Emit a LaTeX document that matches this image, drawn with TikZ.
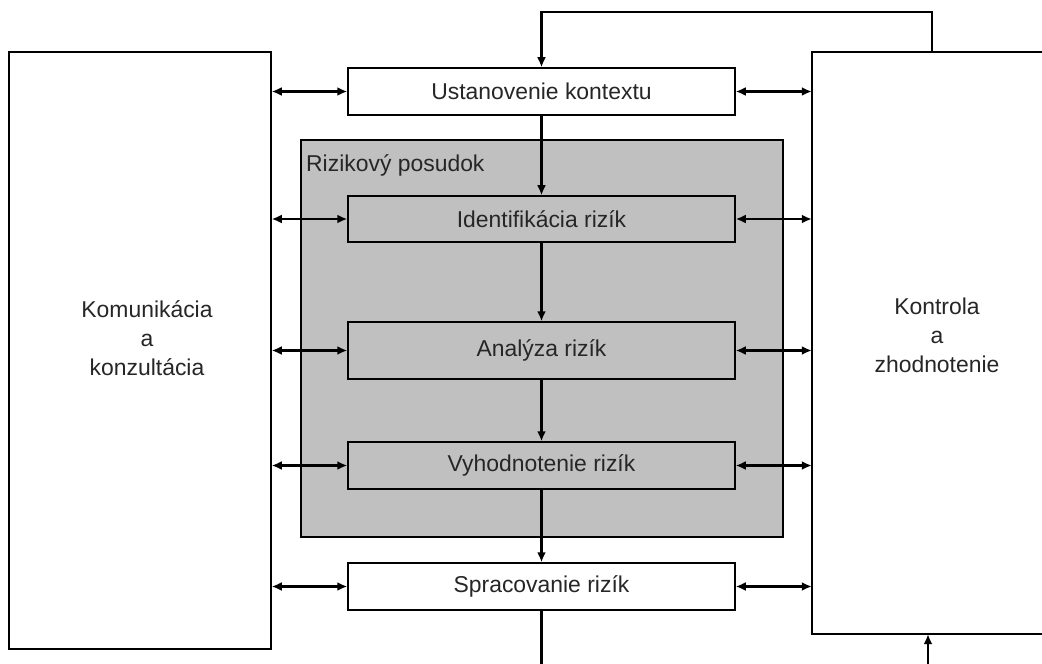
\documentclass[tikz,border=0pt]{standalone}
\usepackage{fontspec}
\setmainfont{Liberation Sans}
\usetikzlibrary{arrows.meta,calc}
\definecolor{riskgray}{RGB}{192,192,192}
\begin{document}
\begin{tikzpicture}[x=1bp,y=-1bp,
  txt/.style={font=\fontsize{23}{29}\selectfont, text=black!85},
  stagebox/.style={txt, draw=black, line width=1.5bp, inner sep=0pt,
    minimum width=387bp, minimum height=47bp},
  outerstage/.style={stagebox, fill=white},
  innerstage/.style={stagebox, fill=riskgray},
  sidebox/.style={draw=black, line width=1.5bp, fill=white, inner sep=0pt},
  sidetext/.style={txt, align=center, inner sep=0pt},
  sideline/.style={draw=black, line width=1.5bp},
  tip/.style={},
  flow/.style={line width=2.4bp, -{Latex[length=10bp,width=9bp]}},
  plain/.style={line width=2.4bp},
  link/.style={line width=2.4bp, {Latex[length=10bp,width=9bp]}-{Latex[length=10bp,width=9bp]}},
]
% page
\fill[white] (0,0) rectangle (1042,664);
\useasboundingbox (0,0) rectangle (1042,664);

% side columns
\node[sidebox, minimum width=262bp, minimum height=597bp] (comm) at (140,350.5) {};
\node[sidetext] (commtext) at (147,338) {Komunikácia\\a\\konzultácia};
\node[inner sep=0pt, minimum width=250bp, minimum height=582bp] (review) at (937,343) {};
\node[sidetext] (reviewtext) at (937,335) {Kontrola\\a\\zhodnotenie};
\coordinate (pageright) at (1042,0);
\draw[sideline] (review.north west -| pageright) -- (review.north west)
  -- (review.south west) -- (review.south west -| pageright);

% risk assessment frame
\node[draw=black, line width=1.5bp, fill=riskgray, minimum width=482bp,
  minimum height=397bp, inner sep=0pt] (assess) at (542,338.5) {};
\node[txt, anchor=north west, inner sep=0pt] (assesstitle) at (306,154) {Rizikový posudok};

% process stages
\node[outerstage] (ctx) at (541.5,91.5) {Ustanovenie kontextu};
\node[innerstage, minimum height=46bp] (ident) at (541.5,219) {Identifikácia rizík};
\node[innerstage, minimum height=57bp] (anal) at (541.5,350.5) {Analýza rizík};
\node[innerstage] (eval) at (541.5,465.5) {Vyhodnotenie rizík};
\node[outerstage] (treat) at (541.5,586.5) {Spracovanie rizík};

% main flow
\draw[flow] (ctx) -- (ident);
\draw[flow] (ident) -- (anal);
\draw[flow] (anal) -- (eval);
\draw[flow] (eval) -- (treat);

% links to the side columns
\foreach \s in {ctx,ident,anal,eval,treat}{
  \draw[link] (comm.east |- \s.west) -- (\s.west);
  \draw[link] (\s.east) -- (review.west |- \s.east);
}

% feedback loops
\coordinate (topturn) at (932,12);
\draw[flow] (review.north -| topturn) -- (topturn) -| (ctx.north);
\coordinate (bottomleft) at (542,664);
\coordinate (bottomright) at (928,664);
\draw[plain] (treat.south) -- (treat.south |- bottomleft);
\draw[flow] (bottomright) -- (bottomright |- review.south);
\end{tikzpicture}
\end{document}
